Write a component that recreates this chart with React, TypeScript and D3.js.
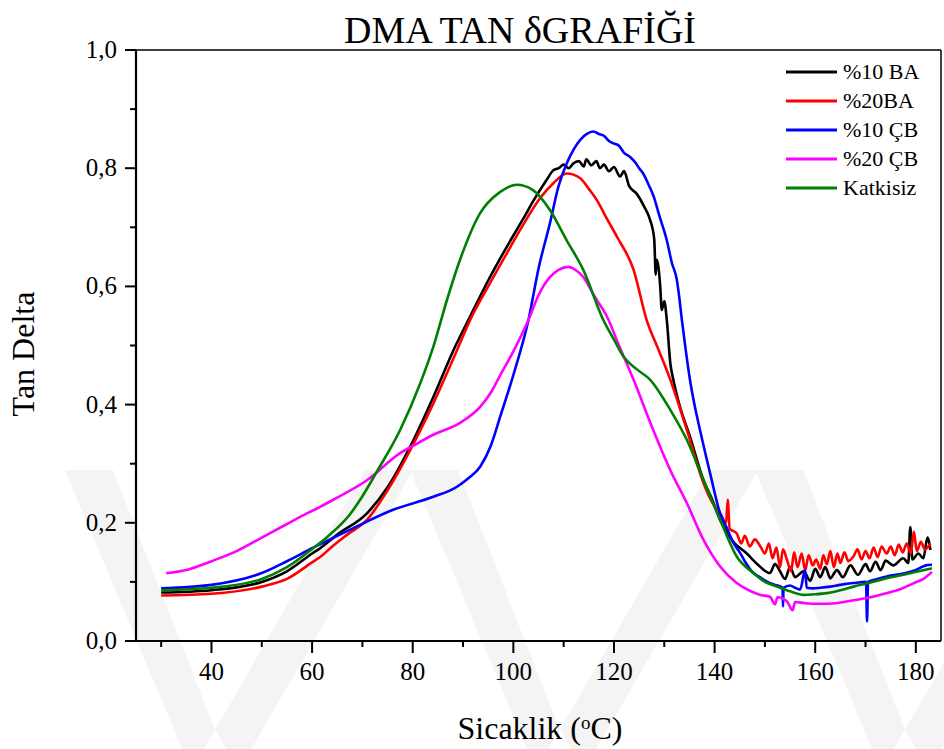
import React from "react";
import * as d3 from "d3";

const W = 944;
const H = 749;

const seriesNames = ["%10 BA", "%20BA", "%10 ÇB", "%20 ÇB", "Katkisiz"];
const seriesColors = ["#000000", "#ff0000", "#0000ff", "#ff00ff", "#008000"];

const xMajorTicks = [40, 60, 80, 100, 120, 140, 160, 180];
const xMinorTicks = [30, 50, 70, 90, 110, 130, 150, 170];
const yMajorTicks = [0, 0.2, 0.4, 0.6, 0.8, 1.0];
const yMinorTicks = [0.1, 0.3, 0.5, 0.7, 0.9];

// [temperature, tan delta]
const ba10: [number, number][] = [
  [30, 0.082], [40, 0.086], [50, 0.1], [55, 0.118], [60, 0.148], [61.6, 0.157], [65, 0.18],
  [70.9, 0.216], [75, 0.26], [79.5, 0.329], [84.1, 0.413], [88.1, 0.492], [91.4, 0.549],
  [95, 0.61], [98.7, 0.667], [102, 0.715], [104, 0.745], [106.6, 0.78], [108, 0.797], [109, 0.8],
  [110, 0.806], [111, 0.8], [111.9, 0.808], [113, 0.812], [114, 0.803], [114.5, 0.815], [115.5, 0.805],
  [116.5, 0.812], [117.2, 0.8], [118, 0.806], [119, 0.795], [120, 0.802], [121.2, 0.786], [122, 0.795],
  [123, 0.77], [124.5, 0.757], [126, 0.735], [127.2, 0.712], [128, 0.68], [128.3, 0.62], [128.5, 0.645],
  [129.2, 0.599], [129.5, 0.56], [130, 0.575], [130.5, 0.543], [131.2, 0.47], [131.8, 0.442], [133, 0.4],
  [135.1, 0.346], [137.8, 0.272], [139.5, 0.24], [141.1, 0.205], [143.5, 0.17], [146.4, 0.148], [148.5, 0.13],
  [151, 0.115], [152, 0.13], [153, 0.118], [154, 0.105], [155, 0.125], [156, 0.108], [157.7, 0.118],
  [159, 0.102], [160, 0.122], [161, 0.108], [162, 0.125], [163, 0.106], [164.3, 0.12], [165.5, 0.108],
  [167, 0.128], [168.5, 0.112], [170, 0.13], [170.9, 0.118], [172, 0.134], [173, 0.12], [174, 0.136],
  [175.5, 0.128], [177.5, 0.14], [178.5, 0.132], [178.9, 0.193], [179.3, 0.138], [180.5, 0.148],
  [181.5, 0.14], [182.3, 0.175], [182.9, 0.154],
];

const ba20: [number, number][] = [
  [30, 0.077], [40, 0.08], [50, 0.092], [55, 0.105], [60, 0.133], [61.6, 0.142], [63.6, 0.157], [67, 0.18],
  [70.9, 0.205], [75, 0.255], [79.5, 0.323], [84.1, 0.402], [88.8, 0.492], [91.4, 0.543], [95, 0.6],
  [98.7, 0.656], [102, 0.705], [105.3, 0.749], [108, 0.775], [110.6, 0.791], [113.3, 0.783], [115, 0.765],
  [116.6, 0.746], [118.5, 0.716], [120.6, 0.684], [123.9, 0.628], [126.5, 0.543], [129, 0.49],
  [131.2, 0.442], [134.5, 0.357], [137.8, 0.267], [139.5, 0.235], [141.1, 0.216], [142.3, 0.2],
  [142.6, 0.239], [143, 0.19], [144.4, 0.182], [145.3, 0.165], [146, 0.178], [147, 0.16], [148, 0.172],
  [149.1, 0.16], [150, 0.148], [150.8, 0.165], [151.5, 0.14], [152.3, 0.158], [153, 0.125], [153.6, 0.155],
  [154.4, 0.137], [155.2, 0.118], [155.8, 0.15], [156.5, 0.125], [157.3, 0.148], [158, 0.12],
  [158.7, 0.145], [159.5, 0.128], [160.2, 0.138], [161, 0.122], [161.6, 0.145], [162.3, 0.13],
  [163, 0.152], [163.7, 0.125], [164.4, 0.148], [165, 0.132], [165.8, 0.15], [166.6, 0.135],
  [167.6, 0.143], [168.4, 0.155], [169.2, 0.138], [170, 0.152], [170.8, 0.14], [171.6, 0.158],
  [172.4, 0.142], [173.2, 0.16], [174.2, 0.148], [175, 0.16], [175.8, 0.145], [176.6, 0.163],
  [177.4, 0.15], [178.2, 0.165], [179, 0.148], [179.6, 0.185], [180.2, 0.152], [181, 0.168],
  [181.8, 0.155], [182.9, 0.165],
];

const cb10: [number, number][] = [
  [30, 0.089], [40, 0.095], [50, 0.115], [55, 0.135], [60, 0.157], [67.5, 0.188], [76.1, 0.222],
  [84.1, 0.244], [88.8, 0.261], [91, 0.275], [93.4, 0.295], [95.5, 0.33], [97.4, 0.38], [100, 0.45],
  [103, 0.543], [105, 0.63], [107.3, 0.708], [109, 0.77], [110.6, 0.808], [112, 0.832], [113.3, 0.848],
  [114.6, 0.858], [115.9, 0.862], [117, 0.858], [118, 0.855], [119, 0.846], [119.9, 0.842], [121, 0.838],
  [122, 0.826], [123.2, 0.819], [124.2, 0.81], [125, 0.8], [125.8, 0.791], [127, 0.77], [127.9, 0.752],
  [129, 0.72], [130.5, 0.678], [131.5, 0.64], [132.5, 0.611], [133, 0.58], [133.5, 0.543], [134.3, 0.49],
  [135.1, 0.442], [136, 0.4], [137.1, 0.357], [139.1, 0.284], [141.1, 0.216], [142.5, 0.19],
  [143.8, 0.165], [145, 0.15], [146, 0.135], [147.7, 0.115], [149, 0.108], [150.5, 0.1], [152, 0.095],
  [153.5, 0.09], [153.6, 0.058], [153.7, 0.09], [155, 0.094], [156, 0.09], [157, 0.087], [158, 0.12],
  [158.3, 0.09], [159.6, 0.089], [161, 0.09], [163, 0.092], [165, 0.095], [167.6, 0.098], [170.1, 0.1],
  [170.3, 0.033], [170.5, 0.1], [172, 0.104], [174.2, 0.109], [176, 0.112], [178, 0.115], [180, 0.12],
  [182, 0.128], [183.2, 0.129],
];

const cb20: [number, number][] = [
  [31, 0.1145], [35, 0.12], [40, 0.135], [45, 0.152], [50, 0.175], [55, 0.198], [57.6, 0.21],
  [61.6, 0.227], [64.2, 0.239], [70.9, 0.272], [77.5, 0.318], [80, 0.33], [84.1, 0.349], [89.4, 0.369],
  [93.4, 0.396], [95.5, 0.42], [97.4, 0.45], [100, 0.49], [103, 0.543], [105, 0.585], [107.3, 0.616],
  [109, 0.628], [110.9, 0.633], [112.5, 0.627], [113.9, 0.616], [116, 0.585], [118.6, 0.549], [121, 0.5],
  [123.9, 0.442], [127.8, 0.357], [131.2, 0.289], [134.5, 0.233], [137.8, 0.171], [141.1, 0.126],
  [144.4, 0.098], [147, 0.085], [149.1, 0.078], [151, 0.075], [152, 0.062], [152.5, 0.074], [154.4, 0.067],
  [155.5, 0.052], [156, 0.066], [158, 0.064], [161, 0.063], [164, 0.064], [167.6, 0.069], [171, 0.074],
  [174.2, 0.081], [177, 0.088], [179.6, 0.098], [181.5, 0.105], [183.2, 0.117],
];

const katkisiz: [number, number][] = [
  [30, 0.086], [40, 0.09], [50, 0.105], [55, 0.125], [60.2, 0.157], [63, 0.176], [67.5, 0.214],
  [70, 0.245], [72.9, 0.287], [77.5, 0.357], [81.5, 0.436], [84.1, 0.498], [86.8, 0.577], [89.4, 0.645],
  [93.4, 0.724], [97.4, 0.76], [100.7, 0.772], [103.9, 0.763], [107.3, 0.729], [110.6, 0.678],
  [113.9, 0.628], [117.9, 0.543], [120, 0.51], [122, 0.48], [124.5, 0.46], [127.2, 0.442],
  [131.2, 0.391], [134.5, 0.34], [137.8, 0.272], [141.1, 0.205], [144.4, 0.143], [147.7, 0.115],
  [150, 0.1], [152.4, 0.092], [155, 0.084], [157.7, 0.078], [160, 0.079], [162.3, 0.081], [165, 0.086],
  [167.6, 0.092], [171, 0.099], [174.2, 0.106], [178, 0.113], [181, 0.119], [183.2, 0.123],
];

const allSeries = [ba10, ba20, cb10, cb20, katkisiz];
const drawOrder = [0, 1, 2, 3, 4];

const margin = { left: 136, right: 3, top: 50, bottom: 108 };

export default function App() {
  const x = d3.scaleLinear().domain([25, 185]).range([margin.left, W - margin.right]);
  const y = d3.scaleLinear().domain([0, 1]).range([H - margin.bottom, margin.top]);
  const line = d3
    .line<[number, number]>()
    .x((d) => x(d[0]))
    .y((d) => y(d[1]))
    .curve(d3.curveMonotoneX);
  const fmt = (v: number) => d3.format(".1f")(v).replace(".", ",");
  const font = "'Liberation Serif', 'Times New Roman', serif";
  const x0 = x.range()[0];
  const x1 = x.range()[1];
  const y0 = y.range()[0];
  const y1 = y.range()[1];

  // faint watermark chevrons
  const chevrons = [215, 560, 905].map((cx) => {
    const vy = 770;
    const top = 470;
    const spread = 150;
    const bw = 48;
    return [
      `M${cx - spread},${top} L${cx - spread + bw},${top} L${cx},${vy - 40} L${cx - bw / 2},${vy} Z`,
      `M${cx + spread},${top} L${cx + spread + bw},${top} L${cx + bw / 2},${vy} L${cx},${vy - 40} Z`,
    ];
  });

  return (
    <svg width={W} height={H} style={{ position: "absolute", left: 0, top: 0, background: "#fff" }}>
      <rect x={0} y={0} width={W} height={H} fill="#ffffff" />
      <g>
        {chevrons.flat().map((p, i) => (
          <path key={i} d={p} fill="#f4f4f4" />
        ))}
      </g>
      <text x={520} y={43} textAnchor="middle" fontFamily={font} fontSize={38} fill="#000">
        DMA TAN δGRAFİĞİ
      </text>
      <g fill="none" strokeWidth={2.6} strokeLinejoin="round">
        {drawOrder.map((i) => (
          <path key={i} d={line(allSeries[i]) || ""} stroke={seriesColors[i]} />
        ))}
      </g>
      {/* frame */}
      <line x1={x0} x2={x1} y1={y1} y2={y1} stroke="#000" strokeWidth={1.5} />
      <line x1={x1} x2={x1} y1={y1} y2={y0} stroke="#000" strokeWidth={1.5} />
      <line x1={x0} x2={x0} y1={y1} y2={y0 + 1} stroke="#000" strokeWidth={2.2} />
      <line x1={x0 - 1} x2={x1} y1={y0} y2={y0} stroke="#000" strokeWidth={2.2} />
      {/* x ticks */}
      {xMajorTicks.map((t) => (
        <g key={"xM" + t}>
          <line x1={x(t)} x2={x(t)} y1={y0} y2={y0 + 12} stroke="#000" strokeWidth={2} />
          <text x={x(t)} y={y0 + 39} textAnchor="middle" fontFamily={font} fontSize={25} fill="#000">
            {t}
          </text>
        </g>
      ))}
      {xMinorTicks.map((t) => (
        <line key={"xm" + t} x1={x(t)} x2={x(t)} y1={y0} y2={y0 + 6} stroke="#000" strokeWidth={2} />
      ))}
      {/* y ticks */}
      {yMajorTicks.map((t) => (
        <g key={"yM" + t}>
          <line x1={x0 - 11} x2={x0} y1={y(t)} y2={y(t)} stroke="#000" strokeWidth={2} />
          <text x={x0 - 19} y={y(t) + 8} textAnchor="end" fontFamily={font} fontSize={25} fill="#000">
            {fmt(t)}
          </text>
        </g>
      ))}
      {yMinorTicks.map((t) => (
        <line key={"ym" + t} x1={x0 - 6} x2={x0} y1={y(t)} y2={y(t)} stroke="#000" strokeWidth={2} />
      ))}
      {/* axis titles */}
      <text
        transform={`translate(34, ${354}) rotate(-90)`}
        textAnchor="middle"
        fontFamily={font}
        fontSize={32}
        fill="#000"
      >
        Tan Delta
      </text>
      <text x={540} y={739} textAnchor="middle" fontFamily={font} fontSize={32} fill="#000">
        Sicaklik (<tspan baselineShift="super" fontSize={19}>o</tspan>C)
      </text>
      {/* legend */}
      {seriesNames.map((n, i) => {
        const ly = 72 + i * 29;
        return (
          <g key={n}>
            <line x1={786} x2={837} y1={ly} y2={ly} stroke={seriesColors[i]} strokeWidth={3} />
            <text x={843} y={ly + 7} fontFamily={font} fontSize={22} fill="#000">
              {n}
            </text>
          </g>
        );
      })}
    </svg>
  );
}
